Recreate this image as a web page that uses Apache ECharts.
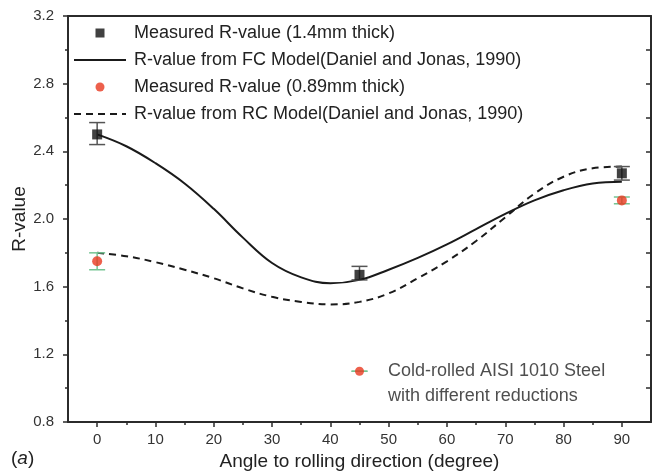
<!DOCTYPE html>
<html>
<head>
<meta charset="utf-8">
<style>
  html, body { margin: 0; padding: 0; background: #fff; }
  #chart { width: 653px; height: 476px; }
</style>
<script src="https://cdn.jsdelivr.net/npm/echarts@6/dist/echarts.min.js"></script>
</head>
<body>
<div id="chart"></div>
<script>
// angle (deg) vs R-value
const angles = [0, 5, 10, 15, 20, 25, 30, 35, 40, 45, 50, 55, 60, 65, 70, 75, 80, 85, 90]
const fcModel = [2.50, 2.43, 2.33, 2.21, 2.06, 1.89, 1.74, 1.655, 1.62, 1.64, 1.70, 1.77, 1.85, 1.94, 2.03, 2.11, 2.17, 2.21, 2.22]
const rcModel = [1.80, 1.78, 1.745, 1.70, 1.65, 1.59, 1.54, 1.51, 1.495, 1.51, 1.56, 1.65, 1.75, 1.87, 2.01, 2.15, 2.25, 2.30, 2.31]

const measured14 = [[0, 2.50], [45, 1.67], [90, 2.27]]
const err14 = [[0, 2.44, 2.57], [45, 1.64, 1.72], [90, 2.23, 2.31]]
const measured089 = [[0, 1.75], [90, 2.11]]
const err089 = [[0, 1.70, 1.80], [90, 2.09, 2.13]]
const notePoint = [[45, 1.10]]
const noteErr = [[45, 1.10, 1.10]]

const xMajor = [0, 10, 20, 30, 40, 50, 60, 70, 80, 90]
const xMinor = [5, 15, 25, 35, 45, 55, 65, 75, 85]

const FONT = '"Liberation Sans", Arial, sans-serif'
const AXIS = '#2b2b2b'
const RED = '#e8381f'
const GREEN = '#74c493'

function errorBar(color) {
  return function (params, api) {
    const top = api.coord([api.value(0), api.value(2)])
    const bot = api.coord([api.value(0), api.value(1)])
    const w = 8
    const style = { stroke: color, lineWidth: 1.5 }
    return {
      type: 'group',
      children: [
        { type: 'line', shape: { x1: top[0], y1: top[1], x2: bot[0], y2: bot[1] }, style },
        { type: 'line', shape: { x1: top[0] - w, y1: top[1], x2: top[0] + w, y2: top[1] }, style },
        { type: 'line', shape: { x1: bot[0] - w, y1: bot[1], x2: bot[0] + w, y2: bot[1] }, style }
      ]
    }
  }
}

const chart = echarts.init(document.getElementById('chart'), null, { renderer: 'canvas' })

chart.setOption({
  animation: false,
  backgroundColor: '#fff',
  textStyle: { fontFamily: FONT, color: '#222' },
  grid: { left: 68, right: 2, top: 16, bottom: 54, outerBoundsMode: 'none', containLabel: false },
  legend: {
    orient: 'vertical', left: 73, top: 24, padding: 0,
    itemWidth: 52, itemHeight: 9, itemGap: 9,
    textStyle: { fontFamily: FONT, fontSize: 18, color: '#222', padding: [0, 0, 0, 3] },
    data: [
      { name: 'Measured R-value (1.4mm thick)', icon: 'path://M0,0H10V10H0Z' },
      { name: 'R-value from FC Model(Daniel and Jonas, 1990)', itemStyle: { opacity: 0 } },
      { name: 'Measured R-value (0.89mm thick)' },
      { name: 'R-value from RC Model(Daniel and Jonas, 1990)', itemStyle: { opacity: 0 } }
    ]
  },
  graphic: [{
    type: 'text', left: 11, top: 449,
    style: {
      text: '({i|a})', fontFamily: FONT, fontSize: 19, fill: '#222',
      rich: { i: { fontStyle: 'italic', fontFamily: FONT, fontSize: 19, fill: '#222' } }
    }
  }],
  xAxis: [
    {
      type: 'value', position: 'bottom', min: -5, max: 95,
      name: 'Angle to rolling direction (degree)', nameLocation: 'middle', nameGap: 30,
      nameMoveOverlap: false,
      nameTextStyle: { fontFamily: FONT, fontSize: 19, color: '#222' },
      axisLine: { onZero: false, lineStyle: { color: AXIS, width: 2 } },
      axisTick: { customValues: xMajor, length: 5, lineStyle: { color: AXIS, width: 1.5 } },
      axisLabel: { customValues: xMajor, margin: 10, fontSize: 15, color: '#333' },
      splitLine: { show: false }
    },
    {
      type: 'value', position: 'bottom', min: -5, max: 95,
      axisLine: { show: false, onZero: false },
      axisTick: { customValues: xMinor, length: 3, lineStyle: { color: AXIS, width: 1.5 } },
      axisLabel: { show: false },
      splitLine: { show: false }
    },
    {
      type: 'value', position: 'top', min: -5, max: 95,
      axisLine: { onZero: false, lineStyle: { color: AXIS, width: 2 } },
      axisTick: { show: false }, axisLabel: { show: false }, splitLine: { show: false }
    }
  ],
  yAxis: [
    {
      type: 'value', position: 'left', min: 0.8, max: 3.2, interval: 0.4,
      name: 'R-value', nameLocation: 'middle', nameGap: 39, nameMoveOverlap: false,
      nameTextStyle: { fontFamily: FONT, fontSize: 19, color: '#222' },
      axisLine: { show: true, onZero: false, lineStyle: { color: AXIS, width: 2 } },
      axisTick: { length: 5, lineStyle: { color: AXIS, width: 1.5 } },
      minorTick: { show: true, splitNumber: 2, length: 3, lineStyle: { color: AXIS, width: 1.5 } },
      axisLabel: { margin: 14, fontSize: 15, color: '#333', formatter: (v) => v.toFixed(1) },
      splitLine: { show: false }
    },
    {
      type: 'value', position: 'right', min: 0.8, max: 3.2, interval: 0.2,
      axisLine: { show: true, onZero: false, lineStyle: { color: AXIS, width: 2 } },
      axisTick: { inside: true, length: 5, lineStyle: { color: AXIS, width: 1.5 } },
      axisLabel: { show: false }, splitLine: { show: false }
    }
  ],
  series: [
    {
      name: 'R-value from FC Model(Daniel and Jonas, 1990)', type: 'line', smooth: 0.4,
      symbol: 'none', data: angles.map((a, i) => [a, fcModel[i]]),
      lineStyle: { color: '#1a1a1a', width: 2 }, itemStyle: { color: '#1a1a1a' }, z: 2
    },
    {
      name: 'R-value from RC Model(Daniel and Jonas, 1990)', type: 'line', smooth: 0.4,
      symbol: 'none', data: angles.map((a, i) => [a, rcModel[i]]),
      lineStyle: { color: '#1a1a1a', width: 2, type: [7, 5] }, itemStyle: { color: '#1a1a1a' }, z: 2
    },
    {
      name: 'err14', type: 'custom', renderItem: errorBar('#555'),
      encode: { x: 0, y: [1, 2] }, data: err14, z: 3
    },
    {
      name: 'err089', type: 'custom', renderItem: errorBar(GREEN),
      encode: { x: 0, y: [1, 2] }, data: err089.concat(noteErr), z: 3
    },
    {
      name: 'Measured R-value (1.4mm thick)', type: 'scatter', symbol: 'rect', symbolSize: 10,
      data: measured14, itemStyle: { color: '#111' }, z: 4
    },
    {
      name: 'Measured R-value (0.89mm thick)', type: 'scatter', symbol: 'circle', symbolSize: 10,
      data: measured089, itemStyle: { color: RED }, z: 4
    },
    {
      name: 'note', type: 'scatter', symbol: 'circle', symbolSize: 9,
      data: notePoint, itemStyle: { color: RED }, z: 4,
      label: {
        show: true, position: 'right', distance: 24, offset: [0, 12],
        formatter: 'Cold-rolled AISI 1010 Steel\nwith different reductions',
        fontFamily: FONT, fontSize: 18, lineHeight: 25, color: '#222'
      }
    }
  ]
})
</script>
</body>
</html>
